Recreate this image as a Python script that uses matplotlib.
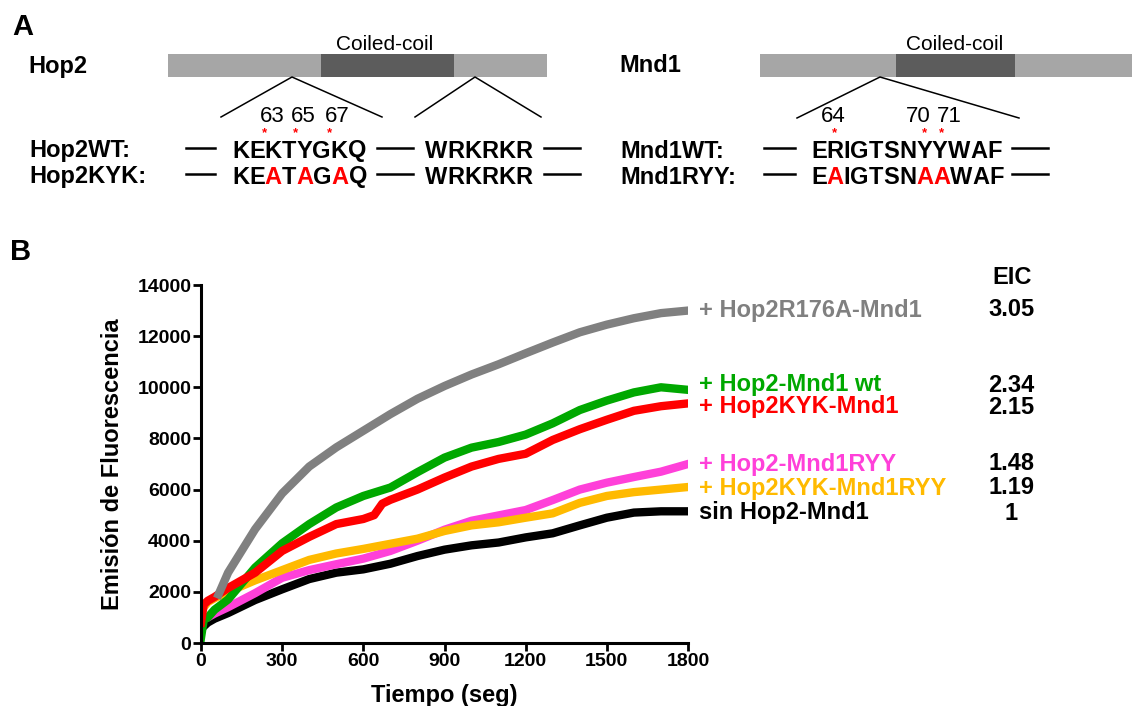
import matplotlib
matplotlib.use('Agg')
import matplotlib.pyplot as plt
from matplotlib.patches import Rectangle

plt.rcParams['font.family'] = ['Liberation Sans', 'DejaVu Sans']

# ---- data ----
# panel A: protein sequences (mutated positions in red)
hop2_wt = "KEKTYGKQ"
hop2_kyk = "KEATAGAQ"
hop2_mut = [2, 4, 6]
hop2_tail = "WRKRKR"
mnd1_wt = "ERIGTSNYYWAF"
mnd1_ryy = "EAIGTSNAAWAF"
mnd1_mut = [1, 7, 8]
hop2_pos = ["63", "65", "67"]
mnd1_pos = ["64", "70", "71"]

# panel B: fluorescence traces (seconds, a.u.)
t_grid = [0, 10, 25, 50, 100, 200, 300, 400, 500, 600, 700, 800, 900,
          1000, 1100, 1200, 1300, 1400, 1500, 1600, 1700, 1800]
green = [200, 900, 1000, 1300, 1700, 2950, 3900, 4650, 5300, 5750, 6080, 6680,
         7250, 7640, 7860, 8150, 8590, 9110, 9480, 9800, 10000, 9900]
black = [600, 650, 800, 950, 1170, 1680, 2100, 2500, 2750, 2880, 3100, 3400,
         3650, 3820, 3930, 4130, 4290, 4600, 4900, 5100, 5150, 5150]
pink = [900, 950, 1000, 1150, 1400, 1950, 2550, 2850, 3080, 3300, 3600, 4000,
        4430, 4780, 4990, 5200, 5590, 6000, 6270, 6490, 6700, 7000]
orange = [1200, 1400, 1600, 1750, 2000, 2450, 2850, 3250, 3500, 3680, 3880, 4080,
          4380, 4600, 4720, 4900, 5070, 5480, 5750, 5900, 6000, 6100]
t_red = [0, 10, 25, 50, 100, 200, 300, 400, 500, 600, 640, 670, 700, 800, 900,
         1000, 1100, 1200, 1300, 1400, 1500, 1600, 1700, 1800]
red = [800, 1500, 1650, 1800, 2150, 2750, 3600, 4150, 4650, 4850, 5000, 5450,
       5600, 6000, 6470, 6900, 7200, 7400, 7940, 8360, 8730, 9080, 9260, 9370]
t_gray = [65, 100, 200, 300, 400, 500, 600, 700, 800, 900, 1000, 1100, 1200,
          1300, 1400, 1500, 1600, 1700, 1800]
gray = [1900, 2750, 4450, 5850, 6900, 7650, 8300, 8950, 9550, 10050, 10500,
        10900, 11330, 11750, 12150, 12450, 12700, 12900, 13000]

labels = ["+ Hop2R176A-Mnd1", "+ Hop2-Mnd1 wt", "+ Hop2KYK-Mnd1",
          "+ Hop2-Mnd1RYY", "+ Hop2KYK-Mnd1RYY", "sin Hop2-Mnd1"]
eic = ["3.05", "2.34", "2.15", "1.48", "1.19", "1"]
colors = ["#808080", "#00A800", "#FF0000", "#FF40D9", "#FFBA00", "#000000"]
label_y = [310, 385, 407, 464, 488, 513]

W, H = 1132, 706
fig = plt.figure(figsize=(W / 100, H / 100), dpi=100)

# overlay axes in pixel units for panel A and the side labels
ov = fig.add_axes([0, 0, 1, 1])
ov.set_xlim(0, W)
ov.set_ylim(H, 0)
ov.axis('off')
ov.patch.set_alpha(0)
renderer = fig.canvas.get_renderer()

LIGHT, DARK = "#A6A6A6", "#5C5C5C"
ROW1, ROW2 = 151, 177


def draw_seq(x, y, seq, mut, size=17):
    for i, ch in enumerate(seq):
        c = 'red' if i in mut else 'black'
        t = ov.text(x, y, ch, color=c, fontsize=size, fontweight='bold',
                    ha='left', va='center')
        x += t.get_window_extent(renderer).width
    return x


def marks(xs_num, nums, xs_star):
    for s, x in zip(nums, xs_num):
        ov.text(x, 122.5, s, fontsize=16, ha='center', va='baseline')
    for x in xs_star:
        ov.text(x, 127.4, "*", fontsize=9.5, fontweight='bold', color='red',
                ha='center', va='top')


ov.text(12, 27, "A", fontsize=21, fontweight='bold', va='center')
ov.text(10, 252, "B", fontsize=21, fontweight='bold', va='center')

# Hop2 domain bar
ov.add_patch(Rectangle((168, 54), 547 - 168, 23, color=LIGHT, lw=0))
ov.add_patch(Rectangle((321, 54), 454 - 321, 23, color=DARK, lw=0))
ov.text(385, 45, "Coiled-coil", fontsize=15, ha='center', va='center')
ov.text(28, 66, "Hop2", fontsize=17, fontweight='bold', va='center')
ov.plot([221, 292, 382], [117, 77, 117], color='black', lw=1.1)
ov.plot([415, 475, 541], [117, 77, 117], color='black', lw=1.1)
marks([272, 303, 337], hop2_pos, [264, 295, 329])

for y, name, seq, mut in [(ROW1, "Hop2WT:", hop2_wt, []),
                          (ROW2, "Hop2KYK:", hop2_kyk, hop2_mut)]:
    ov.text(29, y, name, fontsize=17, fontweight='bold', va='center')
    for a, b in [(186, 215), (377, 413), (544, 580)]:
        ov.plot([a, b], [y - 3, y - 3], color='black', lw=1.8)
    draw_seq(232, y, seq, mut)
    draw_seq(425, y, hop2_tail, [])

# Mnd1 domain bar
ov.add_patch(Rectangle((760, 54), W - 760, 23, color=LIGHT, lw=0))
ov.add_patch(Rectangle((896, 54), 1015 - 896, 23, color=DARK, lw=0))
ov.text(955, 45, "Coiled-coil", fontsize=15, ha='center', va='center')
ov.text(619, 66, "Mnd1", fontsize=17, fontweight='bold', va='center')
ov.plot([797, 880, 1019], [118, 77, 118], color='black', lw=1.1)
marks([833, 918, 949], mnd1_pos, [834, 924, 941])

for y, name, seq, mut in [(ROW1, "Mnd1WT:", mnd1_wt, []),
                          (ROW2, "Mnd1RYY:", mnd1_ryy, mnd1_mut)]:
    ov.text(620, y, name, fontsize=17, fontweight='bold', va='center')
    for a, b in [(764, 795), (1012, 1048)]:
        ov.plot([a, b], [y - 3, y - 3], color='black', lw=1.8)
    draw_seq(811, y, seq, mut)

# ---- panel B ----
ax = fig.add_axes([201 / W, 1 - 643 / H, 487 / W, 358 / H])
series = [(t_grid, black, colors[5]), (t_grid, pink, colors[3]),
          (t_grid, orange, colors[4]), (t_grid, green, colors[1]),
          (t_red, red, colors[2]), (t_gray, gray, colors[0])]
for tt, yy, c in series:
    ax.plot(tt, yy, color=c, lw=6, solid_joinstyle='round')

ax.set_xlim(0, 1800)
ax.set_ylim(0, 14000)
ax.set_xticks(range(0, 1801, 300))
ax.set_yticks(range(0, 14001, 2000))
for side in ['top', 'right']:
    ax.spines[side].set_visible(False)
for side in ['left', 'bottom']:
    ax.spines[side].set_linewidth(2.2)
ax.tick_params(width=2, length=6, pad=1, labelsize=14)
for lab in ax.get_xticklabels() + ax.get_yticklabels():
    lab.set_fontweight('bold')
ax.set_ylabel("Emisión de Fluorescencia", fontsize=17, fontweight='bold')
ax.yaxis.set_label_coords(-0.158, 0.5)
ax.text(0.5, -0.165, "Tiempo (seg)", transform=ax.transAxes, fontsize=17,
        fontweight='bold', ha='center', va='baseline')

ov.text(1012, 278, "EIC", fontsize=17, fontweight='bold', ha='center', va='center')
for lab, e, c, y in zip(labels, eic, colors, label_y):
    ov.text(699, y, lab, fontsize=17, fontweight='bold', color=c, va='center')
    ov.text(1011, y, e, fontsize=17, fontweight='bold', ha='center', va='center')

fig.savefig("out.png", dpi=100)
